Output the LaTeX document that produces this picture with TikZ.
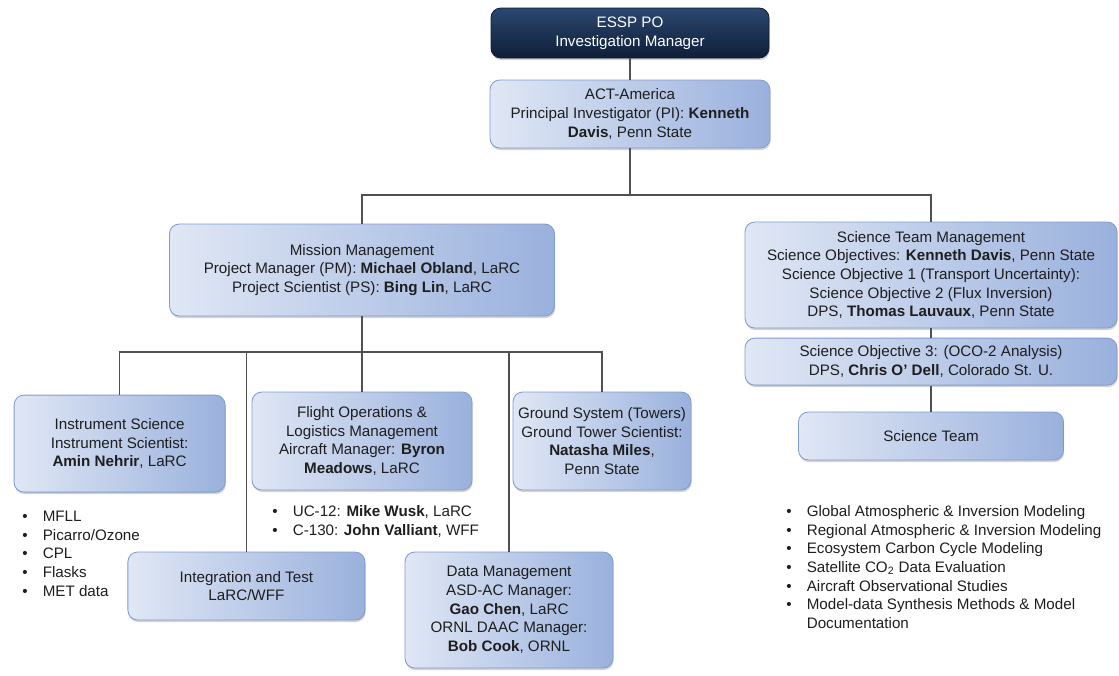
\documentclass[tikz,border=0pt]{standalone}
\usepackage{fontspec}
\setmainfont{Liberation Sans}
\usetikzlibrary{shadows}

\definecolor{boxleft}{HTML}{E0E7F5}
\definecolor{boxright}{HTML}{9AB1DD}
\definecolor{boxline}{HTML}{7F9CD0}
\definecolor{navytop}{HTML}{2B4770}
\definecolor{navybot}{HTML}{0E1E38}
\definecolor{linkgray}{HTML}{505050}
\definecolor{inktext}{HTML}{1E1E1E}

\newcommand{\orgfont}{\fontsize{10.8}{13.3}\selectfont}
\newcommand{\bulletlist}[1]{\begin{tabular}{@{}l@{\hspace{0.38cm}}l@{}}#1\end{tabular}}

\begin{document}
\begin{tikzpicture}[
  boxbase/.style={rounded corners=7pt, line width=0.6pt, align=center, font=\orgfont, inner sep=2pt,
    drop shadow={shadow xshift=0.5pt, shadow yshift=-1.5pt, opacity=0.35}},
  orgbox/.style={boxbase, draw=boxline, left color=boxleft, right color=boxright, text=inktext},
  headbox/.style={boxbase, draw=navybot, top color=navytop, bottom color=navybot, text=white},
  link/.style={draw=linkgray, line width=1.1pt},
  bullets/.style={anchor=north west, inner sep=0pt, font=\orgfont, text=inktext}
]
\useasboundingbox (0,0) rectangle (27.975,-16.875);

% top of the chart
\node[headbox, minimum width=6.95cm, minimum height=1.25cm] (essp) at (15.75,-0.825) {ESSP PO\\Investigation Manager};
\node[orgbox, minimum width=7cm, minimum height=1.7cm] (act) at (15.75,-2.85) {ACT-America\\Principal Investigator (PI): \textbf{Kenneth}\\\textbf{Davis}, Penn State};

% second level
\node[orgbox, minimum width=9.625cm, minimum height=2.3cm] (mission) at (9.05,-6.75) {Mission Management\\Project Manager (PM): \textbf{Michael Obland}, LaRC\\Project Scientist (PS): \textbf{Bing Lin}, LaRC};
\node[orgbox, minimum width=9.3cm, minimum height=2.65cm] (stm) at (23.275,-6.875) {Science Team Management\\Science Objectives: \textbf{Kenneth Davis}, Penn State\\Science Objective 1 (Transport Uncertainty):\\Science Objective 2 (Flux Inversion)\\DPS, \textbf{Thomas Lauvaux}, Penn State};
\node[orgbox, minimum width=9.3cm, minimum height=1.175cm] (so3) at (23.275,-9.04) {Science Objective 3: (OCO-2 Analysis)\\DPS, \textbf{Chris O’ Dell}, Colorado St. U.};
\node[orgbox, minimum width=6.625cm, minimum height=1.2cm] (team) at (23.275,-10.9) {Science Team};

% mission branches
\node[orgbox, minimum width=5.275cm, minimum height=2.425cm] (instr) at (2.99,-11.09) {Instrument Science\\Instrument Scientist:\\\textbf{Amin Nehrir}, LaRC};
\node[orgbox, minimum width=5.5cm, minimum height=2.45cm] (flight) at (9.05,-11.025) {Flight Operations \&\\Logistics Management\\Aircraft Manager: \textbf{Byron}\\\textbf{Meadows}, LaRC};
\node[orgbox, minimum width=4.45cm, minimum height=2.45cm] (ground) at (15.05,-11.025) {Ground System (Towers)\\Ground Tower Scientist:\\\textbf{Natasha Miles},\\Penn State};
\node[orgbox, minimum width=5.925cm, minimum height=1.7cm] (integ) at (6.16,-14.65) {Integration and Test\\LaRC/WFF};
\node[orgbox, minimum width=5.2cm, minimum height=2.9cm] (data) at (12.725,-15.25) {Data Management\\ASD-AC Manager:\\\textbf{Gao Chen}, LaRC\\ORNL DAAC Manager:\\\textbf{Bob Cook}, ORNL};

% bullet lists
\node[bullets] (instlist) at (0.55,-12.7) {\bulletlist{•&MFLL\\•&Picarro/Ozone\\•&CPL\\•&Flasks\\•&MET data}};
\node[bullets] (flightlist) at (6.8,-12.575) {\bulletlist{•&UC-12: \textbf{Mike Wusk}, LaRC\\•&C-130: \textbf{John Valliant}, WFF}};
\node[bullets] (teamlist) at (19.65,-12.575) {\bulletlist{•&Global Atmospheric \& Inversion Modeling\\•&Regional Atmospheric \& Inversion Modeling\\•&Ecosystem Carbon Cycle Modeling\\•&Satellite CO\textsubscript{2} Data Evaluation\\•&Aircraft Observational Studies\\•&Model-data Synthesis Methods \& Model\\&Documentation}};

% connectors
\coordinate (topbus) at (0,-4.875);
\coordinate (lowbus) at (0,-8.8);
\draw[link] (essp) -- (act);
\draw[link] (act.south) -- (act.south |- topbus);
\draw[link] (mission.north) -- (mission.north |- topbus) -| (stm.north);
\draw[link] (stm) -- (so3);
\draw[link] (so3) -- (team);
\draw[link] (mission) -- (flight);
\draw[link] (instr.north) -- (instr.north |- lowbus) -| (ground.north);
\draw[link] (integ.north) -- (integ.north |- lowbus);
\draw[link] (data.north) -- (data.north |- lowbus);
\end{tikzpicture}
\end{document}
